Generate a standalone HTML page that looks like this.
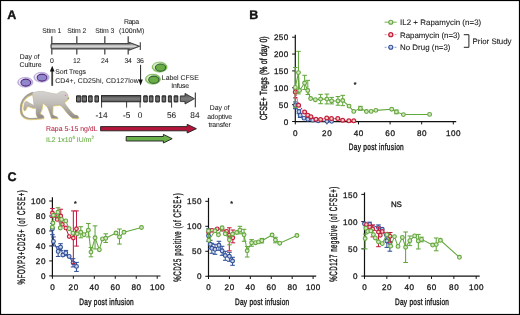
<!DOCTYPE html>
<html><head><meta charset="utf-8"><style>
html,body{margin:0;padding:0;background:#fff;}
svg{display:block;font-family:"Liberation Sans", sans-serif;will-change:transform;text-rendering:geometricPrecision;}
</style></head><body>
<svg width="520" height="315" viewBox="0 0 520 315" font-family='"Liberation Sans", sans-serif'>
<rect x="0" y="0" width="520" height="315" fill="#fff"/>
<text x="7.3" y="19.2" font-size="12.5" text-anchor="start" fill="#111" stroke="#111" stroke-width="0.35" font-weight="bold" >A</text>
<defs><linearGradient id="barg" gradientUnits="userSpaceOnUse" x1="0" y1="43.4" x2="0" y2="49.1"><stop offset="0" stop-color="#6e6e6e"/><stop offset="0.3" stop-color="#b4b4b4"/><stop offset="0.5" stop-color="#dedede"/><stop offset="0.7" stop-color="#b4b4b4"/><stop offset="1" stop-color="#707070"/></linearGradient><linearGradient id="bar2" x1="0" y1="0" x2="0" y2="1"><stop offset="0" stop-color="#4a4a4a"/><stop offset="0.5" stop-color="#7c7c7c"/><stop offset="1" stop-color="#585858"/></linearGradient><linearGradient id="mk" x1="0" y1="0" x2="0" y2="1"><stop offset="0" stop-color="#c9c7c4"/><stop offset="1" stop-color="#9d9a96"/></linearGradient></defs>
<line x1="51.8" y1="36.2" x2="51.8" y2="54.5" stroke="#4a4a4a" stroke-width="1.3"/>
<line x1="76.8" y1="36.2" x2="76.8" y2="54.5" stroke="#4a4a4a" stroke-width="1.3"/>
<line x1="104.8" y1="36.2" x2="104.8" y2="54.5" stroke="#4a4a4a" stroke-width="1.3"/>
<line x1="128.2" y1="36.2" x2="128.2" y2="54.5" stroke="#4a4a4a" stroke-width="1.3"/>
<path d="M52.2 43.6 H129 V42.3 L139.3 46.2 L129 50.2 V48.9 H52.2 Q51 48.9 51 46.25 Q51 43.6 52.2 43.6 Z" fill="url(#barg)" stroke="#474747" stroke-width="1.2"/>
<line x1="140.3" y1="42.3" x2="140.3" y2="50" stroke="#3e3e3e" stroke-width="1.1"/>
<text x="51.8" y="33.2" font-size="6.9" text-anchor="middle" fill="#222" stroke="#222" stroke-width="0.05" font-weight="normal" textLength="19.2" lengthAdjust="spacing" >Stim 1</text>
<text x="76.8" y="33.2" font-size="6.9" text-anchor="middle" fill="#222" stroke="#222" stroke-width="0.05" font-weight="normal" textLength="19.2" lengthAdjust="spacing" >Stim 2</text>
<text x="104.8" y="33.2" font-size="6.9" text-anchor="middle" fill="#222" stroke="#222" stroke-width="0.05" font-weight="normal" textLength="19.2" lengthAdjust="spacing" >Stim 3</text>
<text x="131.5" y="24.4" font-size="6.9" text-anchor="middle" fill="#222" stroke="#222" stroke-width="0.05" font-weight="normal" textLength="15" lengthAdjust="spacing" >Rapa</text>
<text x="131.6" y="33.4" font-size="6.9" text-anchor="middle" fill="#222" stroke="#222" stroke-width="0.05" font-weight="normal" textLength="25.4" lengthAdjust="spacing" >(100nM)</text>
<text x="51.8" y="63.2" font-size="6.9" text-anchor="middle" fill="#222" stroke="#222" stroke-width="0.05" font-weight="normal" textLength="3.7" lengthAdjust="spacing" >0</text>
<text x="76.8" y="63.2" font-size="6.9" text-anchor="middle" fill="#222" stroke="#222" stroke-width="0.05" font-weight="normal" textLength="7.4" lengthAdjust="spacing" >12</text>
<text x="104.8" y="63.2" font-size="6.9" text-anchor="middle" fill="#222" stroke="#222" stroke-width="0.05" font-weight="normal" textLength="7.4" lengthAdjust="spacing" >24</text>
<text x="128.2" y="63.2" font-size="6.9" text-anchor="middle" fill="#222" stroke="#222" stroke-width="0.05" font-weight="normal" textLength="7.4" lengthAdjust="spacing" >34</text>
<text x="140.2" y="63.2" font-size="6.9" text-anchor="middle" fill="#222" stroke="#222" stroke-width="0.05" font-weight="normal" textLength="7.4" lengthAdjust="spacing" >36</text>
<text x="29.6" y="58.9" font-size="6.9" text-anchor="middle" fill="#222" stroke="#222" stroke-width="0.05" font-weight="normal" textLength="19.5" lengthAdjust="spacing" >Day of</text>
<text x="30.6" y="66.8" font-size="6.9" text-anchor="middle" fill="#222" stroke="#222" stroke-width="0.05" font-weight="normal" textLength="22" lengthAdjust="spacing" >Culture</text>
<line x1="52.2" y1="70" x2="52.2" y2="85.8" stroke="#454545" stroke-width="1.8"/>
<path d="M52.2 65.8 L54.5 71.5 L49.9 71.5 Z" fill="#111"/>
<text x="55.2" y="74.2" font-size="6.9" text-anchor="start" fill="#222" stroke="#222" stroke-width="0.05" font-weight="normal" textLength="30.8" lengthAdjust="spacing" >Sort Tregs</text>
<text x="55.2" y="82.6" font-size="6.9" text-anchor="start" fill="#222" stroke="#222" stroke-width="0.05" font-weight="normal" textLength="83.6" lengthAdjust="spacing" >CD4+, CD25hi, CD127low</text>
<line x1="140.6" y1="64.8" x2="140.6" y2="81" stroke="#222" stroke-width="1"/>
<path d="M140.6 85.6 L138.4 79.6 L142.8 79.6 Z" fill="#111"/>
<ellipse cx="25.3" cy="82.3" rx="7.7" ry="5" fill="#bdb2e0" stroke="#a597d4" stroke-width="0.5"/>
<ellipse cx="25.0" cy="82.1" rx="6.3" ry="4.1" fill="#efeaf8"/>
<ellipse cx="25.8" cy="82.6" rx="4.9" ry="3.5" fill="#9088cc" stroke="#54267a" stroke-width="1.05"/>
<ellipse cx="41.5" cy="77.3" rx="7.7" ry="5" fill="#bdb2e0" stroke="#a597d4" stroke-width="0.5"/>
<ellipse cx="41.2" cy="77.1" rx="6.3" ry="4.1" fill="#efeaf8"/>
<ellipse cx="42.0" cy="77.6" rx="4.9" ry="3.5" fill="#9088cc" stroke="#54267a" stroke-width="1.05"/>
<ellipse cx="159.6" cy="67.1" rx="7.6" ry="5.1" fill="#7fbd58" stroke="#6fb048" stroke-width="0.5"/>
<ellipse cx="159.2" cy="66.8" rx="6.2" ry="4.2" fill="#d9ecc9"/>
<ellipse cx="160.5" cy="67.6" rx="5.1" ry="3.6" fill="#69ad44" stroke="#2f5f35" stroke-width="1.05"/>
<ellipse cx="152.9" cy="79.2" rx="7.6" ry="5.1" fill="#7fbd58" stroke="#6fb048" stroke-width="0.5"/>
<ellipse cx="152.5" cy="78.9" rx="6.2" ry="4.2" fill="#d9ecc9"/>
<ellipse cx="153.8" cy="79.7" rx="5.1" ry="3.6" fill="#69ad44" stroke="#2f5f35" stroke-width="1.05"/>
<text x="180.3" y="79.6" font-size="6.9" text-anchor="middle" fill="#222" stroke="#222" stroke-width="0.05" font-weight="normal" textLength="36.9" lengthAdjust="spacing" >Label CFSE</text>
<text x="180.2" y="87.8" font-size="6.9" text-anchor="middle" fill="#222" stroke="#222" stroke-width="0.05" font-weight="normal" textLength="17.7" lengthAdjust="spacing" >Infuse</text>
<rect x="76.5" y="95.8" width="4.300000000000009" height="6.2" rx="0.2" fill="url(#bar2)" stroke="#1a1a1a" stroke-width="0.9"/>
<rect x="82.2" y="95.8" width="4.300000000000009" height="6.2" rx="0.2" fill="url(#bar2)" stroke="#1a1a1a" stroke-width="0.9"/>
<rect x="88.60000000000001" y="95.8" width="3.5999999999999917" height="6.2" rx="0.2" fill="url(#bar2)" stroke="#1a1a1a" stroke-width="0.9"/>
<rect x="94.9" y="95.8" width="3.600000000000006" height="6.2" rx="0.2" fill="url(#bar2)" stroke="#1a1a1a" stroke-width="0.9"/>
<rect x="143.70000000000002" y="95.8" width="3.5999999999999774" height="6.2" rx="0.2" fill="url(#bar2)" stroke="#1a1a1a" stroke-width="0.9"/>
<rect x="149.4" y="95.8" width="3.600000000000006" height="6.2" rx="0.2" fill="url(#bar2)" stroke="#1a1a1a" stroke-width="0.9"/>
<rect x="155.70000000000002" y="95.8" width="3.7" height="6.2" rx="0.2" fill="url(#bar2)" stroke="#1a1a1a" stroke-width="0.9"/>
<rect x="162.1" y="95.8" width="3.600000000000006" height="6.2" rx="0.2" fill="url(#bar2)" stroke="#1a1a1a" stroke-width="0.9"/>
<rect x="168.4" y="95.8" width="3.0000000000000115" height="6.2" rx="0.2" fill="url(#bar2)" stroke="#1a1a1a" stroke-width="0.9"/>
<rect x="174.1" y="95.8" width="3.7" height="6.2" rx="0.2" fill="url(#bar2)" stroke="#1a1a1a" stroke-width="0.9"/>
<rect x="101.5" y="95.6" width="39.2" height="6.2" fill="url(#bar2)" stroke="#1a1a1a" stroke-width="0.9"/>
<path d="M180.3 95.9 H185 V93.4 L194.4 98.7 L185 104 V101.6 H180.3 Z" fill="url(#bar2)" stroke="#222" stroke-width="0.8"/>
<line x1="195.3" y1="92.5" x2="195.3" y2="107.3" stroke="#222" stroke-width="1"/>
<line x1="101.6" y1="101.8" x2="101.6" y2="107.6" stroke="#222" stroke-width="0.9"/>
<line x1="126.6" y1="101.8" x2="126.6" y2="107.6" stroke="#222" stroke-width="0.9"/>
<line x1="140.1" y1="101.8" x2="140.1" y2="107.6" stroke="#222" stroke-width="0.9"/>
<line x1="171.6" y1="101.8" x2="171.6" y2="107.6" stroke="#222" stroke-width="0.9"/>
<text x="101.6" y="118.2" font-size="8.3" text-anchor="middle" fill="#222" stroke="#222" stroke-width="0.05" font-weight="normal" >-14</text>
<text x="126.6" y="118.2" font-size="8.3" text-anchor="middle" fill="#222" stroke="#222" stroke-width="0.05" font-weight="normal" >-5</text>
<text x="140.1" y="118.2" font-size="8.3" text-anchor="middle" fill="#222" stroke="#222" stroke-width="0.05" font-weight="normal" >0</text>
<text x="171.6" y="118.2" font-size="8.3" text-anchor="middle" fill="#222" stroke="#222" stroke-width="0.05" font-weight="normal" >56</text>
<text x="194.9" y="118.2" font-size="8.3" text-anchor="middle" fill="#222" stroke="#222" stroke-width="0.05" font-weight="normal" >84</text>
<text x="219.6" y="110.2" font-size="6.9" text-anchor="middle" fill="#222" stroke="#222" stroke-width="0.05" font-weight="normal" textLength="19.7" lengthAdjust="spacing" >Day of</text>
<text x="219.6" y="119.1" font-size="6.9" text-anchor="middle" fill="#222" stroke="#222" stroke-width="0.05" font-weight="normal" textLength="24.8" lengthAdjust="spacing" >adoptive</text>
<text x="219.6" y="126.8" font-size="6.9" text-anchor="middle" fill="#222" stroke="#222" stroke-width="0.05" font-weight="normal" textLength="22.3" lengthAdjust="spacing" >transfer</text>
<path d="M33.2 91.8 C29.5 92.6 25.2 95 22.3 99.6 C19.8 103.6 19.3 109.2 20.6 113.6 C22 117.4 25.5 119.2 29.5 119.3 C33.5 119.3 37.5 118.9 41.8 118.4 L41.8 117.5 C37.5 117.8 33.5 118 29.6 117.9 C26.4 117.7 23.7 116.3 22.4 113 C21.2 109.6 21.6 104.8 23.4 101.3 C25.5 97.5 29 95.2 32.8 94.4 Z" fill="#e8cf72" stroke="#e8cf72" stroke-width="0.7" transform="translate(0.3,0.5)"/>
<path d="M32.3 93 C36 91.4 40 90.9 44 91.6 C48 92.4 52 93.5 56.4 93.9 C57.8 93.5 58.6 92.5 59.8 91.9 C61 91.1 63.5 90.8 65.2 91.7 C66.8 92.5 67.6 94.3 67.8 95.9 C68.2 96.9 68.8 97.7 68.5 98.5 C68 99.3 67.2 99.5 66.6 100.3 C66 101.2 64.8 101.7 64 101.9 C64.6 103 65.6 104.6 67 106.4 C69 109 71 111.6 73 113.4 C74 114.4 75 114.9 76.2 115.1 C77.5 115.4 78.4 116.3 78.6 117.3 C78.4 118.1 77.4 118.3 76.5 118.3 L72.6 118 C70.8 116.8 68.6 114.6 66.8 112.4 C65 110.3 63.4 108 62 106.4 C61.2 105.6 60.2 105 59.3 104.9 C57 105 54.8 105.3 52.8 105.6 C52.8 108.5 52.4 111.6 52.5 114.1 C53.3 115.5 54.8 116.1 56.2 116.5 C57.3 116.9 57.9 117.6 57.8 118.3 L51.5 118.2 C50.7 115.7 49.6 112.3 48.6 109.7 L47 106.3 C45.5 105.1 44 103.7 42.6 102.7 C42.4 104.9 42.2 107.5 41.6 109.5 C41 111.3 40.2 112.7 39.8 113.9 C41.2 114.2 42.6 114.7 43.4 115.7 C43.9 116.5 43.9 117.5 43.6 118.2 L38.2 118.1 C37.2 116.9 36.3 115.5 36.1 114.1 L36 107.6 C35 107.9 34 108.1 33 107.9 C31.8 107.4 30.2 106.8 28.6 106.3 C27.6 106 27 106.2 26.6 107.2 C26.2 108.4 25.8 109.6 25 110.3 C24.4 110.6 23.8 110.2 23.7 109.4 C23.6 108 23.8 106 24.2 104.2 C24.5 102.8 25 101.6 26 101.2 C27.4 101.4 29 102.6 30.6 103.6 C31.8 104.4 33 105 34 105.4 C33.8 101.5 33.2 97.5 32.3 93 Z" fill="#e8cf72" stroke="#e8cf72" stroke-width="0.8" transform="translate(0.3,0.6)"/>
<defs><linearGradient id="mkb" x1="0" y1="0" x2="0" y2="1"><stop offset="0" stop-color="#d6d4d1"/><stop offset="0.45" stop-color="#c0bdb9"/><stop offset="1" stop-color="#8e8b87"/></linearGradient></defs>
<path d="M33.2 91.8 C29.5 92.6 25.2 95 22.3 99.6 C19.8 103.6 19.3 109.2 20.6 113.6 C22 117.4 25.5 119.2 29.5 119.3 C33.5 119.3 37.5 118.9 41.8 118.4 L41.8 117.5 C37.5 117.8 33.5 118 29.6 117.9 C26.4 117.7 23.7 116.3 22.4 113 C21.2 109.6 21.6 104.8 23.4 101.3 C25.5 97.5 29 95.2 32.8 94.4 Z" fill="#a3a09c"/>
<path d="M32.3 93 C36 91.4 40 90.9 44 91.6 C48 92.4 52 93.5 56.4 93.9 C57.8 93.5 58.6 92.5 59.8 91.9 C61 91.1 63.5 90.8 65.2 91.7 C66.8 92.5 67.6 94.3 67.8 95.9 C68.2 96.9 68.8 97.7 68.5 98.5 C68 99.3 67.2 99.5 66.6 100.3 C66 101.2 64.8 101.7 64 101.9 C64.6 103 65.6 104.6 67 106.4 C69 109 71 111.6 73 113.4 C74 114.4 75 114.9 76.2 115.1 C77.5 115.4 78.4 116.3 78.6 117.3 C78.4 118.1 77.4 118.3 76.5 118.3 L72.6 118 C70.8 116.8 68.6 114.6 66.8 112.4 C65 110.3 63.4 108 62 106.4 C61.2 105.6 60.2 105 59.3 104.9 C57 105 54.8 105.3 52.8 105.6 C52.8 108.5 52.4 111.6 52.5 114.1 C53.3 115.5 54.8 116.1 56.2 116.5 C57.3 116.9 57.9 117.6 57.8 118.3 L51.5 118.2 C50.7 115.7 49.6 112.3 48.6 109.7 L47 106.3 C45.5 105.1 44 103.7 42.6 102.7 C42.4 104.9 42.2 107.5 41.6 109.5 C41 111.3 40.2 112.7 39.8 113.9 C41.2 114.2 42.6 114.7 43.4 115.7 C43.9 116.5 43.9 117.5 43.6 118.2 L38.2 118.1 C37.2 116.9 36.3 115.5 36.1 114.1 L36 107.6 C35 107.9 34 108.1 33 107.9 C31.8 107.4 30.2 106.8 28.6 106.3 C27.6 106 27 106.2 26.6 107.2 C26.2 108.4 25.8 109.6 25 110.3 C24.4 110.6 23.8 110.2 23.7 109.4 C23.6 108 23.8 106 24.2 104.2 C24.5 102.8 25 101.6 26 101.2 C27.4 101.4 29 102.6 30.6 103.6 C31.8 104.4 33 105 34 105.4 C33.8 101.5 33.2 97.5 32.3 93 Z" fill="url(#mkb)" stroke="#aaa7a3" stroke-width="0.3"/>
<circle cx="65.3" cy="95.3" r="1.05" fill="#e9b2d6"/><circle cx="65.4" cy="95.3" r="0.45" fill="#7a5a70"/><circle cx="68.2" cy="98.3" r="0.55" fill="#6e6b68"/>
<text x="46" y="131.2" font-size="6.9" text-anchor="start" fill="#b51d3c" stroke="#b51d3c" stroke-width="0.05" font-weight="normal" textLength="51.5" lengthAdjust="spacing" >Rapa 5-15 ng/dL</text>
<text x="46" y="142" font-size="6.9" text-anchor="start" fill="#5fa83a" stroke="#5fa83a" stroke-width="0.05" font-weight="normal" >IL2 1x10<tspan font-size="4.5" dy="-2.6">6</tspan><tspan dy="2.6"> IU/m</tspan><tspan font-size="4.5" dy="-2.6">2</tspan></text>
<path d="M100.6 126.6 H187.2 V124.3 L196.4 128.7 L187.2 133 V130.8 H100.6 Z" fill="#b3163a" stroke="#1e1e1e" stroke-width="0.9"/>
<path d="M126.2 136.5 H163.4 V134.4 L172.2 138.7 L163.4 143 V141 H126.2 Z" fill="#6ab04a" stroke="#1e1e1e" stroke-width="0.9"/>
<text x="249.3" y="18.8" font-size="12.5" text-anchor="start" fill="#111" stroke="#111" stroke-width="0.35" font-weight="bold" >B</text>
<line x1="295.3" y1="34.8" x2="295.3" y2="122.19999999999999" stroke="#111" stroke-width="1.2"/>
<line x1="294.7" y1="121.6" x2="456.2" y2="121.6" stroke="#111" stroke-width="1.2"/>
<line x1="292.1" y1="121.50" x2="295.3" y2="121.50" stroke="#111" stroke-width="1"/>
<text x="288.3" y="124.6" font-size="8.1" text-anchor="end" fill="#1a1a1a" stroke="#1a1a1a" stroke-width="0.3" font-weight="normal" textLength="4.8" lengthAdjust="spacing" >0</text>
<line x1="292.1" y1="104.64" x2="295.3" y2="104.64" stroke="#111" stroke-width="1"/>
<text x="288.3" y="107.74" font-size="8.1" text-anchor="end" fill="#1a1a1a" stroke="#1a1a1a" stroke-width="0.3" font-weight="normal" textLength="9.6" lengthAdjust="spacing" >50</text>
<line x1="292.1" y1="87.78" x2="295.3" y2="87.78" stroke="#111" stroke-width="1"/>
<text x="288.3" y="90.88" font-size="8.1" text-anchor="end" fill="#1a1a1a" stroke="#1a1a1a" stroke-width="0.3" font-weight="normal" textLength="14.4" lengthAdjust="spacing" >100</text>
<line x1="292.1" y1="70.92" x2="295.3" y2="70.92" stroke="#111" stroke-width="1"/>
<text x="288.3" y="74.02" font-size="8.1" text-anchor="end" fill="#1a1a1a" stroke="#1a1a1a" stroke-width="0.3" font-weight="normal" textLength="14.4" lengthAdjust="spacing" >150</text>
<line x1="292.1" y1="54.06" x2="295.3" y2="54.06" stroke="#111" stroke-width="1"/>
<text x="288.3" y="57.16" font-size="8.1" text-anchor="end" fill="#1a1a1a" stroke="#1a1a1a" stroke-width="0.3" font-weight="normal" textLength="14.4" lengthAdjust="spacing" >200</text>
<line x1="292.1" y1="37.20" x2="295.3" y2="37.20" stroke="#111" stroke-width="1"/>
<text x="288.3" y="40.3" font-size="8.1" text-anchor="end" fill="#1a1a1a" stroke="#1a1a1a" stroke-width="0.3" font-weight="normal" textLength="14.4" lengthAdjust="spacing" >250</text>
<line x1="295.30" y1="121.6" x2="295.30" y2="124.39999999999999" stroke="#111" stroke-width="1"/>
<text x="295.3" y="135.8" font-size="8.1" text-anchor="middle" fill="#1a1a1a" stroke="#1a1a1a" stroke-width="0.3" font-weight="normal" textLength="4.8" lengthAdjust="spacing" >0</text>
<line x1="326.90" y1="121.6" x2="326.90" y2="124.39999999999999" stroke="#111" stroke-width="1"/>
<text x="326.9" y="135.8" font-size="8.1" text-anchor="middle" fill="#1a1a1a" stroke="#1a1a1a" stroke-width="0.3" font-weight="normal" textLength="9.6" lengthAdjust="spacing" >20</text>
<line x1="358.50" y1="121.6" x2="358.50" y2="124.39999999999999" stroke="#111" stroke-width="1"/>
<text x="358.5" y="135.8" font-size="8.1" text-anchor="middle" fill="#1a1a1a" stroke="#1a1a1a" stroke-width="0.3" font-weight="normal" textLength="9.6" lengthAdjust="spacing" >40</text>
<line x1="390.10" y1="121.6" x2="390.10" y2="124.39999999999999" stroke="#111" stroke-width="1"/>
<text x="390.1" y="135.8" font-size="8.1" text-anchor="middle" fill="#1a1a1a" stroke="#1a1a1a" stroke-width="0.3" font-weight="normal" textLength="9.6" lengthAdjust="spacing" >60</text>
<line x1="421.70" y1="121.6" x2="421.70" y2="124.39999999999999" stroke="#111" stroke-width="1"/>
<text x="421.7" y="135.8" font-size="8.1" text-anchor="middle" fill="#1a1a1a" stroke="#1a1a1a" stroke-width="0.3" font-weight="normal" textLength="9.6" lengthAdjust="spacing" >80</text>
<line x1="453.30" y1="121.6" x2="453.30" y2="124.39999999999999" stroke="#111" stroke-width="1"/>
<text x="453.3" y="135.8" font-size="8.1" text-anchor="middle" fill="#1a1a1a" stroke="#1a1a1a" stroke-width="0.3" font-weight="normal" textLength="14.4" lengthAdjust="spacing" >100</text>
<text transform="translate(376.2,149.8) scale(0.7,1)" x="0" y="0" font-size="9.3" text-anchor="middle" fill="#1a1a1a" stroke="#1a1a1a" stroke-width="0.4" textLength="78.57" lengthAdjust="spacing">Day post infusion</text>
<text transform="translate(266.7,78.3) rotate(-90) scale(0.68,1)" x="0" y="0" font-size="10.3" text-anchor="middle" fill="#1a1a1a" stroke="#1a1a1a" stroke-width="0.4" textLength="123.53" lengthAdjust="spacing">CFSE+ Tregs (% of day 0)</text>
<line x1="295.30" y1="108.69" x2="295.30" y2="101.94" stroke="#30509a" stroke-width="1.05"/>
<line x1="293.00" y1="108.69" x2="297.60" y2="108.69" stroke="#30509a" stroke-width="1.05"/>
<line x1="293.00" y1="101.94" x2="297.60" y2="101.94" stroke="#30509a" stroke-width="1.05"/>
<line x1="298.93" y1="113.74" x2="298.93" y2="109.70" stroke="#30509a" stroke-width="1.05"/>
<line x1="296.63" y1="113.74" x2="301.23" y2="113.74" stroke="#30509a" stroke-width="1.05"/>
<line x1="296.63" y1="109.70" x2="301.23" y2="109.70" stroke="#30509a" stroke-width="1.05"/>
<line x1="300.20" y1="117.45" x2="300.20" y2="113.41" stroke="#30509a" stroke-width="1.05"/>
<line x1="297.90" y1="117.45" x2="302.50" y2="117.45" stroke="#30509a" stroke-width="1.05"/>
<line x1="297.90" y1="113.41" x2="302.50" y2="113.41" stroke="#30509a" stroke-width="1.05"/>
<polyline points="295.30,105.31 298.93,111.72 300.20,115.43 303.99,118.13 307.78,119.31 312.68,120.15 318.21,120.83 326.90,121.33 331.64,121.33" fill="none" stroke="#30509a" stroke-width="1.05" stroke-dasharray="1.5,1"/>
<circle cx="295.30" cy="105.31" r="1.9" fill="#c9d1e6" stroke="#30509a" stroke-width="1.1"/>
<circle cx="298.93" cy="111.72" r="1.9" fill="#c9d1e6" stroke="#30509a" stroke-width="1.1"/>
<circle cx="300.20" cy="115.43" r="1.9" fill="#c9d1e6" stroke="#30509a" stroke-width="1.1"/>
<circle cx="303.99" cy="118.13" r="1.9" fill="#c9d1e6" stroke="#30509a" stroke-width="1.1"/>
<circle cx="307.78" cy="119.31" r="1.9" fill="#c9d1e6" stroke="#30509a" stroke-width="1.1"/>
<circle cx="312.68" cy="120.15" r="1.9" fill="#c9d1e6" stroke="#30509a" stroke-width="1.1"/>
<circle cx="318.21" cy="120.83" r="1.9" fill="#c9d1e6" stroke="#30509a" stroke-width="1.1"/>
<circle cx="326.90" cy="121.33" r="1.9" fill="#c9d1e6" stroke="#30509a" stroke-width="1.1"/>
<circle cx="331.64" cy="121.33" r="1.9" fill="#c9d1e6" stroke="#30509a" stroke-width="1.1"/>
<line x1="295.30" y1="97.90" x2="295.30" y2="89.13" stroke="#c51c3f" stroke-width="1.05"/>
<line x1="293.00" y1="97.90" x2="297.60" y2="97.90" stroke="#c51c3f" stroke-width="1.05"/>
<line x1="293.00" y1="89.13" x2="297.60" y2="89.13" stroke="#c51c3f" stroke-width="1.05"/>
<polyline points="295.30,92.00 298.62,105.31 304.62,112.06 307.78,115.19 310.94,116.78 316.00,119.31 320.58,119.48 326.74,117.99 331.48,118.60 337.80,118.60 342.70,120.18 348.86,120.83 353.76,120.83" fill="none" stroke="#c51c3f" stroke-width="1.05" stroke-dasharray="1.5,1"/>
<circle cx="295.30" cy="92.00" r="1.9" fill="#efd3bf" stroke="#c51c3f" stroke-width="1.2"/>
<circle cx="298.62" cy="105.31" r="1.9" fill="#efd3bf" stroke="#c51c3f" stroke-width="1.2"/>
<circle cx="304.62" cy="112.06" r="1.9" fill="#efd3bf" stroke="#c51c3f" stroke-width="1.2"/>
<circle cx="307.78" cy="115.19" r="1.9" fill="#efd3bf" stroke="#c51c3f" stroke-width="1.2"/>
<circle cx="310.94" cy="116.78" r="1.9" fill="#efd3bf" stroke="#c51c3f" stroke-width="1.2"/>
<circle cx="316.00" cy="119.31" r="1.9" fill="#efd3bf" stroke="#c51c3f" stroke-width="1.2"/>
<circle cx="320.58" cy="119.48" r="1.9" fill="#efd3bf" stroke="#c51c3f" stroke-width="1.2"/>
<circle cx="326.74" cy="117.99" r="1.9" fill="#efd3bf" stroke="#c51c3f" stroke-width="1.2"/>
<circle cx="331.48" cy="118.60" r="1.9" fill="#efd3bf" stroke="#c51c3f" stroke-width="1.2"/>
<circle cx="337.80" cy="118.60" r="1.9" fill="#efd3bf" stroke="#c51c3f" stroke-width="1.2"/>
<circle cx="342.70" cy="120.18" r="1.9" fill="#efd3bf" stroke="#c51c3f" stroke-width="1.2"/>
<circle cx="348.86" cy="120.83" r="1.9" fill="#efd3bf" stroke="#c51c3f" stroke-width="1.2"/>
<circle cx="353.76" cy="120.83" r="1.9" fill="#efd3bf" stroke="#c51c3f" stroke-width="1.2"/>
<line x1="295.30" y1="107.34" x2="295.30" y2="67.55" stroke="#62a83c" stroke-width="1.05"/>
<line x1="293.00" y1="107.34" x2="297.60" y2="107.34" stroke="#62a83c" stroke-width="1.05"/>
<line x1="293.00" y1="67.55" x2="297.60" y2="67.55" stroke="#62a83c" stroke-width="1.05"/>
<line x1="298.46" y1="93.85" x2="298.46" y2="51.36" stroke="#62a83c" stroke-width="1.05"/>
<line x1="296.16" y1="93.85" x2="300.76" y2="93.85" stroke="#62a83c" stroke-width="1.05"/>
<line x1="296.16" y1="51.36" x2="300.76" y2="51.36" stroke="#62a83c" stroke-width="1.05"/>
<line x1="304.62" y1="89.47" x2="304.62" y2="75.30" stroke="#62a83c" stroke-width="1.05"/>
<line x1="302.32" y1="89.47" x2="306.92" y2="89.47" stroke="#62a83c" stroke-width="1.05"/>
<line x1="302.32" y1="75.30" x2="306.92" y2="75.30" stroke="#62a83c" stroke-width="1.05"/>
<line x1="307.78" y1="94.52" x2="307.78" y2="80.36" stroke="#62a83c" stroke-width="1.05"/>
<line x1="305.48" y1="94.52" x2="310.08" y2="94.52" stroke="#62a83c" stroke-width="1.05"/>
<line x1="305.48" y1="80.36" x2="310.08" y2="80.36" stroke="#62a83c" stroke-width="1.05"/>
<line x1="320.58" y1="103.70" x2="320.58" y2="94.39" stroke="#62a83c" stroke-width="1.05"/>
<line x1="318.28" y1="103.70" x2="322.88" y2="103.70" stroke="#62a83c" stroke-width="1.05"/>
<line x1="318.28" y1="94.39" x2="322.88" y2="94.39" stroke="#62a83c" stroke-width="1.05"/>
<line x1="326.90" y1="103.90" x2="326.90" y2="94.09" stroke="#62a83c" stroke-width="1.05"/>
<line x1="324.60" y1="103.90" x2="329.20" y2="103.90" stroke="#62a83c" stroke-width="1.05"/>
<line x1="324.60" y1="94.09" x2="329.20" y2="94.09" stroke="#62a83c" stroke-width="1.05"/>
<line x1="331.64" y1="103.90" x2="331.64" y2="97.39" stroke="#62a83c" stroke-width="1.05"/>
<line x1="329.34" y1="103.90" x2="333.94" y2="103.90" stroke="#62a83c" stroke-width="1.05"/>
<line x1="329.34" y1="97.39" x2="333.94" y2="97.39" stroke="#62a83c" stroke-width="1.05"/>
<line x1="337.96" y1="105.21" x2="337.96" y2="96.55" stroke="#62a83c" stroke-width="1.05"/>
<line x1="335.66" y1="105.21" x2="340.26" y2="105.21" stroke="#62a83c" stroke-width="1.05"/>
<line x1="335.66" y1="96.55" x2="340.26" y2="96.55" stroke="#62a83c" stroke-width="1.05"/>
<line x1="342.70" y1="105.62" x2="342.70" y2="95.37" stroke="#62a83c" stroke-width="1.05"/>
<line x1="340.40" y1="105.62" x2="345.00" y2="105.62" stroke="#62a83c" stroke-width="1.05"/>
<line x1="340.40" y1="95.37" x2="345.00" y2="95.37" stroke="#62a83c" stroke-width="1.05"/>
<line x1="360.40" y1="110.37" x2="360.40" y2="106.33" stroke="#62a83c" stroke-width="1.05"/>
<line x1="358.10" y1="110.37" x2="362.70" y2="110.37" stroke="#62a83c" stroke-width="1.05"/>
<line x1="358.10" y1="106.33" x2="362.70" y2="106.33" stroke="#62a83c" stroke-width="1.05"/>
<line x1="396.42" y1="113.74" x2="396.42" y2="110.04" stroke="#62a83c" stroke-width="1.05"/>
<line x1="394.12" y1="113.74" x2="398.72" y2="113.74" stroke="#62a83c" stroke-width="1.05"/>
<line x1="394.12" y1="110.04" x2="398.72" y2="110.04" stroke="#62a83c" stroke-width="1.05"/>
<polyline points="295.30,87.44 298.46,72.61 299.57,90.48 304.62,83.06 307.78,90.48 310.63,98.57 315.37,99.72 320.58,99.11 326.90,99.11 331.64,100.93 337.96,100.93 342.70,100.49 349.02,106.09 353.76,111.38 360.40,108.35 366.40,111.55 371.14,111.38 375.88,110.37 391.68,109.19 396.42,111.89 403.37,114.59 429.60,114.42" fill="none" stroke="#62a83c" stroke-width="1.05"/>
<circle cx="295.30" cy="87.44" r="1.9" fill="#d9e6c6" stroke="#62a83c" stroke-width="1.1"/>
<circle cx="298.46" cy="72.61" r="1.9" fill="#d9e6c6" stroke="#62a83c" stroke-width="1.1"/>
<circle cx="299.57" cy="90.48" r="1.9" fill="#d9e6c6" stroke="#62a83c" stroke-width="1.1"/>
<circle cx="304.62" cy="83.06" r="1.9" fill="#d9e6c6" stroke="#62a83c" stroke-width="1.1"/>
<circle cx="307.78" cy="90.48" r="1.9" fill="#d9e6c6" stroke="#62a83c" stroke-width="1.1"/>
<circle cx="310.63" cy="98.57" r="1.9" fill="#d9e6c6" stroke="#62a83c" stroke-width="1.1"/>
<circle cx="315.37" cy="99.72" r="1.9" fill="#d9e6c6" stroke="#62a83c" stroke-width="1.1"/>
<circle cx="320.58" cy="99.11" r="1.9" fill="#d9e6c6" stroke="#62a83c" stroke-width="1.1"/>
<circle cx="326.90" cy="99.11" r="1.9" fill="#d9e6c6" stroke="#62a83c" stroke-width="1.1"/>
<circle cx="331.64" cy="100.93" r="1.9" fill="#d9e6c6" stroke="#62a83c" stroke-width="1.1"/>
<circle cx="337.96" cy="100.93" r="1.9" fill="#d9e6c6" stroke="#62a83c" stroke-width="1.1"/>
<circle cx="342.70" cy="100.49" r="1.9" fill="#d9e6c6" stroke="#62a83c" stroke-width="1.1"/>
<circle cx="349.02" cy="106.09" r="1.9" fill="#d9e6c6" stroke="#62a83c" stroke-width="1.1"/>
<circle cx="353.76" cy="111.38" r="1.9" fill="#d9e6c6" stroke="#62a83c" stroke-width="1.1"/>
<circle cx="360.40" cy="108.35" r="1.9" fill="#d9e6c6" stroke="#62a83c" stroke-width="1.1"/>
<circle cx="366.40" cy="111.55" r="1.9" fill="#d9e6c6" stroke="#62a83c" stroke-width="1.1"/>
<circle cx="371.14" cy="111.38" r="1.9" fill="#d9e6c6" stroke="#62a83c" stroke-width="1.1"/>
<circle cx="375.88" cy="110.37" r="1.9" fill="#d9e6c6" stroke="#62a83c" stroke-width="1.1"/>
<circle cx="391.68" cy="109.19" r="1.9" fill="#d9e6c6" stroke="#62a83c" stroke-width="1.1"/>
<circle cx="396.42" cy="111.89" r="1.9" fill="#d9e6c6" stroke="#62a83c" stroke-width="1.1"/>
<circle cx="403.37" cy="114.59" r="1.9" fill="#d9e6c6" stroke="#62a83c" stroke-width="1.1"/>
<circle cx="429.60" cy="114.42" r="1.9" fill="#d9e6c6" stroke="#62a83c" stroke-width="1.1"/>
<text x="355.2" y="86.5" font-size="7" text-anchor="middle" fill="#222" stroke="#222" stroke-width="0.3" font-weight="normal" >*</text>
<line x1="384.6" y1="22.2" x2="396.6" y2="22.2" stroke="#62a83c" stroke-width="0.9"/>
<circle cx="390.80" cy="22.20" r="2" fill="#d9e6c6" stroke="#62a83c" stroke-width="1.1"/>
<line x1="384.6" y1="34.7" x2="396.6" y2="34.7" stroke="#e48aa2" stroke-width="1" stroke-dasharray="2,1.3"/>
<circle cx="390.80" cy="34.70" r="2" fill="#efd3bf" stroke="#c51c3f" stroke-width="1.3"/>
<line x1="384.6" y1="47.3" x2="396.6" y2="47.3" stroke="#8d9fd0" stroke-width="1" stroke-dasharray="2,1.3"/>
<circle cx="390.80" cy="47.30" r="2" fill="#c9d1e6" stroke="#30509a" stroke-width="1.1"/>
<text x="400" y="25.2" font-size="7.9" text-anchor="start" fill="#1a1a1a" stroke="#1a1a1a" stroke-width="0.1" font-weight="normal" textLength="81.2" lengthAdjust="spacing" >IL2 + Rapamycin (n=3)</text>
<text x="400" y="37.8" font-size="7.9" text-anchor="start" fill="#1a1a1a" stroke="#1a1a1a" stroke-width="0.1" font-weight="normal" textLength="60" lengthAdjust="spacing" >Rapamycin (n=3)</text>
<text x="400" y="50.4" font-size="7.9" text-anchor="start" fill="#1a1a1a" stroke="#1a1a1a" stroke-width="0.1" font-weight="normal" textLength="50.5" lengthAdjust="spacing" >No Drug (n=3)</text>
<path d="M463.8 34.7 H468.9 V47.3 H463.8" fill="none" stroke="#222" stroke-width="1"/>
<text x="472.6" y="43.9" font-size="7.9" text-anchor="start" fill="#1a1a1a" stroke="#1a1a1a" stroke-width="0.1" font-weight="normal" textLength="38.9" lengthAdjust="spacing" >Prior Study</text>
<text x="7.5" y="180.6" font-size="12.5" text-anchor="start" fill="#111" stroke="#111" stroke-width="0.35" font-weight="bold" >C</text>
<line x1="52.4" y1="197.3" x2="52.4" y2="276.6" stroke="#111" stroke-width="1.2"/>
<line x1="51.8" y1="276.0" x2="160.5" y2="276.0" stroke="#111" stroke-width="1.2"/>
<line x1="49.199999999999996" y1="275.90" x2="52.4" y2="275.90" stroke="#111" stroke-width="1"/>
<text x="45.4" y="279.0" font-size="8.1" text-anchor="end" fill="#1a1a1a" stroke="#1a1a1a" stroke-width="0.3" font-weight="normal" textLength="4.8" lengthAdjust="spacing" >0</text>
<line x1="49.199999999999996" y1="260.92" x2="52.4" y2="260.92" stroke="#111" stroke-width="1"/>
<text x="45.4" y="264.02" font-size="8.1" text-anchor="end" fill="#1a1a1a" stroke="#1a1a1a" stroke-width="0.3" font-weight="normal" textLength="9.6" lengthAdjust="spacing" >20</text>
<line x1="49.199999999999996" y1="245.94" x2="52.4" y2="245.94" stroke="#111" stroke-width="1"/>
<text x="45.4" y="249.04" font-size="8.1" text-anchor="end" fill="#1a1a1a" stroke="#1a1a1a" stroke-width="0.3" font-weight="normal" textLength="9.6" lengthAdjust="spacing" >40</text>
<line x1="49.199999999999996" y1="230.96" x2="52.4" y2="230.96" stroke="#111" stroke-width="1"/>
<text x="45.4" y="234.06" font-size="8.1" text-anchor="end" fill="#1a1a1a" stroke="#1a1a1a" stroke-width="0.3" font-weight="normal" textLength="9.6" lengthAdjust="spacing" >60</text>
<line x1="49.199999999999996" y1="215.98" x2="52.4" y2="215.98" stroke="#111" stroke-width="1"/>
<text x="45.4" y="219.08" font-size="8.1" text-anchor="end" fill="#1a1a1a" stroke="#1a1a1a" stroke-width="0.3" font-weight="normal" textLength="9.6" lengthAdjust="spacing" >80</text>
<line x1="49.199999999999996" y1="201.00" x2="52.4" y2="201.00" stroke="#111" stroke-width="1"/>
<text x="45.4" y="204.1" font-size="8.1" text-anchor="end" fill="#1a1a1a" stroke="#1a1a1a" stroke-width="0.3" font-weight="normal" textLength="14.4" lengthAdjust="spacing" >100</text>
<line x1="52.40" y1="276.0" x2="52.40" y2="278.8" stroke="#111" stroke-width="1"/>
<text x="52.4" y="290.2" font-size="8.1" text-anchor="middle" fill="#1a1a1a" stroke="#1a1a1a" stroke-width="0.3" font-weight="normal" textLength="4.8" lengthAdjust="spacing" >0</text>
<line x1="73.36" y1="276.0" x2="73.36" y2="278.8" stroke="#111" stroke-width="1"/>
<text x="73.36" y="290.2" font-size="8.1" text-anchor="middle" fill="#1a1a1a" stroke="#1a1a1a" stroke-width="0.3" font-weight="normal" textLength="9.6" lengthAdjust="spacing" >20</text>
<line x1="94.32" y1="276.0" x2="94.32" y2="278.8" stroke="#111" stroke-width="1"/>
<text x="94.32" y="290.2" font-size="8.1" text-anchor="middle" fill="#1a1a1a" stroke="#1a1a1a" stroke-width="0.3" font-weight="normal" textLength="9.6" lengthAdjust="spacing" >40</text>
<line x1="115.28" y1="276.0" x2="115.28" y2="278.8" stroke="#111" stroke-width="1"/>
<text x="115.28" y="290.2" font-size="8.1" text-anchor="middle" fill="#1a1a1a" stroke="#1a1a1a" stroke-width="0.3" font-weight="normal" textLength="9.6" lengthAdjust="spacing" >60</text>
<line x1="136.24" y1="276.0" x2="136.24" y2="278.8" stroke="#111" stroke-width="1"/>
<text x="136.24" y="290.2" font-size="8.1" text-anchor="middle" fill="#1a1a1a" stroke="#1a1a1a" stroke-width="0.3" font-weight="normal" textLength="9.6" lengthAdjust="spacing" >80</text>
<line x1="157.20" y1="276.0" x2="157.20" y2="278.8" stroke="#111" stroke-width="1"/>
<text x="157.2" y="290.2" font-size="8.1" text-anchor="middle" fill="#1a1a1a" stroke="#1a1a1a" stroke-width="0.3" font-weight="normal" textLength="14.4" lengthAdjust="spacing" >100</text>
<text transform="translate(106.5,304.9) scale(0.7,1)" x="0" y="0" font-size="9.3" text-anchor="middle" fill="#1a1a1a" stroke="#1a1a1a" stroke-width="0.4" textLength="77.57" lengthAdjust="spacing">Day post infusion</text>
<text transform="translate(24.5,237.25) rotate(-90) scale(0.56,1)" x="0" y="0" font-size="10.8" text-anchor="middle" fill="#1a1a1a" stroke="#1a1a1a" stroke-width="0.4" textLength="168.39" lengthAdjust="spacing">%FOXP3+CD25+ (of CFSE+)</text>
<line x1="52.40" y1="234.70" x2="52.40" y2="223.47" stroke="#30509a" stroke-width="1.05"/>
<line x1="50.10" y1="234.70" x2="54.70" y2="234.70" stroke="#30509a" stroke-width="1.05"/>
<line x1="50.10" y1="223.47" x2="54.70" y2="223.47" stroke="#30509a" stroke-width="1.05"/>
<line x1="53.45" y1="245.94" x2="53.45" y2="236.95" stroke="#30509a" stroke-width="1.05"/>
<line x1="51.15" y1="245.94" x2="55.75" y2="245.94" stroke="#30509a" stroke-width="1.05"/>
<line x1="51.15" y1="236.95" x2="55.75" y2="236.95" stroke="#30509a" stroke-width="1.05"/>
<line x1="58.16" y1="256.43" x2="58.16" y2="246.69" stroke="#30509a" stroke-width="1.05"/>
<line x1="55.86" y1="256.43" x2="60.46" y2="256.43" stroke="#30509a" stroke-width="1.05"/>
<line x1="55.86" y1="246.69" x2="60.46" y2="246.69" stroke="#30509a" stroke-width="1.05"/>
<line x1="60.57" y1="250.43" x2="60.57" y2="243.69" stroke="#30509a" stroke-width="1.05"/>
<line x1="58.27" y1="250.43" x2="62.87" y2="250.43" stroke="#30509a" stroke-width="1.05"/>
<line x1="58.27" y1="243.69" x2="62.87" y2="243.69" stroke="#30509a" stroke-width="1.05"/>
<line x1="65.81" y1="255.68" x2="65.81" y2="250.43" stroke="#30509a" stroke-width="1.05"/>
<line x1="63.51" y1="255.68" x2="68.11" y2="255.68" stroke="#30509a" stroke-width="1.05"/>
<line x1="63.51" y1="250.43" x2="68.11" y2="250.43" stroke="#30509a" stroke-width="1.05"/>
<line x1="73.05" y1="266.91" x2="73.05" y2="258.67" stroke="#30509a" stroke-width="1.05"/>
<line x1="70.75" y1="266.91" x2="75.35" y2="266.91" stroke="#30509a" stroke-width="1.05"/>
<line x1="70.75" y1="258.67" x2="75.35" y2="258.67" stroke="#30509a" stroke-width="1.05"/>
<line x1="76.50" y1="271.41" x2="76.50" y2="262.42" stroke="#30509a" stroke-width="1.05"/>
<line x1="74.20" y1="271.41" x2="78.80" y2="271.41" stroke="#30509a" stroke-width="1.05"/>
<line x1="74.20" y1="262.42" x2="78.80" y2="262.42" stroke="#30509a" stroke-width="1.05"/>
<polyline points="52.40,228.71 53.45,241.45 58.16,251.41 60.57,247.14 62.88,255.00 65.81,252.91 69.17,256.43 73.05,262.87 76.50,266.39" fill="none" stroke="#30509a" stroke-width="1.05"/>
<circle cx="52.40" cy="228.71" r="1.9" fill="#c9d1e6" stroke="#30509a" stroke-width="1.1"/>
<circle cx="53.45" cy="241.45" r="1.9" fill="#c9d1e6" stroke="#30509a" stroke-width="1.1"/>
<circle cx="58.16" cy="251.41" r="1.9" fill="#c9d1e6" stroke="#30509a" stroke-width="1.1"/>
<circle cx="60.57" cy="247.14" r="1.9" fill="#c9d1e6" stroke="#30509a" stroke-width="1.1"/>
<circle cx="62.88" cy="255.00" r="1.9" fill="#c9d1e6" stroke="#30509a" stroke-width="1.1"/>
<circle cx="65.81" cy="252.91" r="1.9" fill="#c9d1e6" stroke="#30509a" stroke-width="1.1"/>
<circle cx="69.17" cy="256.43" r="1.9" fill="#c9d1e6" stroke="#30509a" stroke-width="1.1"/>
<circle cx="73.05" cy="262.87" r="1.9" fill="#c9d1e6" stroke="#30509a" stroke-width="1.1"/>
<circle cx="76.50" cy="266.39" r="1.9" fill="#c9d1e6" stroke="#30509a" stroke-width="1.1"/>
<line x1="52.40" y1="217.48" x2="52.40" y2="208.49" stroke="#c51c3f" stroke-width="1.05"/>
<line x1="50.10" y1="217.48" x2="54.70" y2="217.48" stroke="#c51c3f" stroke-width="1.05"/>
<line x1="50.10" y1="208.49" x2="54.70" y2="208.49" stroke="#c51c3f" stroke-width="1.05"/>
<line x1="60.78" y1="221.97" x2="60.78" y2="209.24" stroke="#c51c3f" stroke-width="1.05"/>
<line x1="58.48" y1="221.97" x2="63.08" y2="221.97" stroke="#c51c3f" stroke-width="1.05"/>
<line x1="58.48" y1="209.24" x2="63.08" y2="209.24" stroke="#c51c3f" stroke-width="1.05"/>
<line x1="73.36" y1="263.62" x2="73.36" y2="210.89" stroke="#c51c3f" stroke-width="1.05"/>
<line x1="71.06" y1="263.62" x2="75.66" y2="263.62" stroke="#c51c3f" stroke-width="1.05"/>
<line x1="71.06" y1="210.89" x2="75.66" y2="210.89" stroke="#c51c3f" stroke-width="1.05"/>
<line x1="76.50" y1="246.09" x2="76.50" y2="210.89" stroke="#c51c3f" stroke-width="1.05"/>
<line x1="74.20" y1="246.09" x2="78.80" y2="246.09" stroke="#c51c3f" stroke-width="1.05"/>
<line x1="74.20" y1="210.89" x2="78.80" y2="210.89" stroke="#c51c3f" stroke-width="1.05"/>
<polyline points="52.40,212.98 54.50,215.23 57.12,219.43 60.78,215.98 62.36,224.37 65.81,227.96 69.17,236.58 73.36,238.00 76.50,228.71" fill="none" stroke="#c51c3f" stroke-width="1.05"/>
<circle cx="52.40" cy="212.98" r="1.8" fill="#efd3bf" stroke="#c51c3f" stroke-width="1.15"/>
<circle cx="54.50" cy="215.23" r="1.8" fill="#efd3bf" stroke="#c51c3f" stroke-width="1.15"/>
<circle cx="57.12" cy="219.43" r="1.8" fill="#efd3bf" stroke="#c51c3f" stroke-width="1.15"/>
<circle cx="60.78" cy="215.98" r="1.8" fill="#efd3bf" stroke="#c51c3f" stroke-width="1.15"/>
<circle cx="62.36" cy="224.37" r="1.8" fill="#efd3bf" stroke="#c51c3f" stroke-width="1.15"/>
<circle cx="65.81" cy="227.96" r="1.8" fill="#efd3bf" stroke="#c51c3f" stroke-width="1.15"/>
<circle cx="69.17" cy="236.58" r="1.8" fill="#efd3bf" stroke="#c51c3f" stroke-width="1.15"/>
<circle cx="73.36" cy="238.00" r="1.8" fill="#efd3bf" stroke="#c51c3f" stroke-width="1.15"/>
<circle cx="76.50" cy="228.71" r="1.8" fill="#efd3bf" stroke="#c51c3f" stroke-width="1.15"/>
<line x1="57.95" y1="216.73" x2="57.95" y2="207.74" stroke="#62a83c" stroke-width="1.05"/>
<line x1="55.65" y1="216.73" x2="60.25" y2="216.73" stroke="#62a83c" stroke-width="1.05"/>
<line x1="55.65" y1="207.74" x2="60.25" y2="207.74" stroke="#62a83c" stroke-width="1.05"/>
<line x1="80.80" y1="237.78" x2="80.80" y2="226.69" stroke="#62a83c" stroke-width="1.05"/>
<line x1="78.50" y1="237.78" x2="83.10" y2="237.78" stroke="#62a83c" stroke-width="1.05"/>
<line x1="78.50" y1="226.69" x2="83.10" y2="226.69" stroke="#62a83c" stroke-width="1.05"/>
<line x1="88.35" y1="236.95" x2="88.35" y2="223.47" stroke="#62a83c" stroke-width="1.05"/>
<line x1="86.05" y1="236.95" x2="90.65" y2="236.95" stroke="#62a83c" stroke-width="1.05"/>
<line x1="86.05" y1="223.47" x2="90.65" y2="223.47" stroke="#62a83c" stroke-width="1.05"/>
<line x1="90.97" y1="256.80" x2="90.97" y2="247.44" stroke="#62a83c" stroke-width="1.05"/>
<line x1="88.67" y1="256.80" x2="93.27" y2="256.80" stroke="#62a83c" stroke-width="1.05"/>
<line x1="88.67" y1="247.44" x2="93.27" y2="247.44" stroke="#62a83c" stroke-width="1.05"/>
<line x1="95.05" y1="248.94" x2="95.05" y2="225.87" stroke="#62a83c" stroke-width="1.05"/>
<line x1="92.75" y1="248.94" x2="97.35" y2="248.94" stroke="#62a83c" stroke-width="1.05"/>
<line x1="92.75" y1="225.87" x2="97.35" y2="225.87" stroke="#62a83c" stroke-width="1.05"/>
<line x1="105.74" y1="242.49" x2="105.74" y2="233.81" stroke="#62a83c" stroke-width="1.05"/>
<line x1="103.44" y1="242.49" x2="108.04" y2="242.49" stroke="#62a83c" stroke-width="1.05"/>
<line x1="103.44" y1="233.81" x2="108.04" y2="233.81" stroke="#62a83c" stroke-width="1.05"/>
<line x1="119.47" y1="244.07" x2="119.47" y2="229.01" stroke="#62a83c" stroke-width="1.05"/>
<line x1="117.17" y1="244.07" x2="121.77" y2="244.07" stroke="#62a83c" stroke-width="1.05"/>
<line x1="117.17" y1="229.01" x2="121.77" y2="229.01" stroke="#62a83c" stroke-width="1.05"/>
<polyline points="52.40,227.21 52.92,223.02 53.45,215.23 57.95,212.23 60.26,227.96 61.62,219.43 65.81,220.92 69.17,228.71 72.94,233.21 77.24,233.73 80.80,232.23 84.05,234.70 88.35,230.21 90.97,252.08 95.05,237.78 99.35,249.68 102.49,238.97 105.74,238.30 116.01,232.98 119.47,236.95 123.98,232.23 141.48,227.51" fill="none" stroke="#62a83c" stroke-width="1.05"/>
<circle cx="52.40" cy="227.21" r="1.9" fill="#d9e6c6" stroke="#62a83c" stroke-width="1.1"/>
<circle cx="52.92" cy="223.02" r="1.9" fill="#d9e6c6" stroke="#62a83c" stroke-width="1.1"/>
<circle cx="53.45" cy="215.23" r="1.9" fill="#d9e6c6" stroke="#62a83c" stroke-width="1.1"/>
<circle cx="57.95" cy="212.23" r="1.9" fill="#d9e6c6" stroke="#62a83c" stroke-width="1.1"/>
<circle cx="60.26" cy="227.96" r="1.9" fill="#d9e6c6" stroke="#62a83c" stroke-width="1.1"/>
<circle cx="61.62" cy="219.43" r="1.9" fill="#d9e6c6" stroke="#62a83c" stroke-width="1.1"/>
<circle cx="65.81" cy="220.92" r="1.9" fill="#d9e6c6" stroke="#62a83c" stroke-width="1.1"/>
<circle cx="69.17" cy="228.71" r="1.9" fill="#d9e6c6" stroke="#62a83c" stroke-width="1.1"/>
<circle cx="72.94" cy="233.21" r="1.9" fill="#d9e6c6" stroke="#62a83c" stroke-width="1.1"/>
<circle cx="77.24" cy="233.73" r="1.9" fill="#d9e6c6" stroke="#62a83c" stroke-width="1.1"/>
<circle cx="80.80" cy="232.23" r="1.9" fill="#d9e6c6" stroke="#62a83c" stroke-width="1.1"/>
<circle cx="84.05" cy="234.70" r="1.9" fill="#d9e6c6" stroke="#62a83c" stroke-width="1.1"/>
<circle cx="88.35" cy="230.21" r="1.9" fill="#d9e6c6" stroke="#62a83c" stroke-width="1.1"/>
<circle cx="90.97" cy="252.08" r="1.9" fill="#d9e6c6" stroke="#62a83c" stroke-width="1.1"/>
<circle cx="95.05" cy="237.78" r="1.9" fill="#d9e6c6" stroke="#62a83c" stroke-width="1.1"/>
<circle cx="99.35" cy="249.68" r="1.9" fill="#d9e6c6" stroke="#62a83c" stroke-width="1.1"/>
<circle cx="102.49" cy="238.97" r="1.9" fill="#d9e6c6" stroke="#62a83c" stroke-width="1.1"/>
<circle cx="105.74" cy="238.30" r="1.9" fill="#d9e6c6" stroke="#62a83c" stroke-width="1.1"/>
<circle cx="116.01" cy="232.98" r="1.9" fill="#d9e6c6" stroke="#62a83c" stroke-width="1.1"/>
<circle cx="119.47" cy="236.95" r="1.9" fill="#d9e6c6" stroke="#62a83c" stroke-width="1.1"/>
<circle cx="123.98" cy="232.23" r="1.9" fill="#d9e6c6" stroke="#62a83c" stroke-width="1.1"/>
<circle cx="141.48" cy="227.51" r="1.9" fill="#d9e6c6" stroke="#62a83c" stroke-width="1.1"/>
<text x="75.4" y="205.5" font-size="7" text-anchor="middle" fill="#222" stroke="#222" stroke-width="0.3" font-weight="normal" >*</text>
<line x1="208.5" y1="197.9" x2="208.5" y2="276.8" stroke="#111" stroke-width="1.2"/>
<line x1="207.9" y1="276.2" x2="316.2" y2="276.2" stroke="#111" stroke-width="1.2"/>
<line x1="205.3" y1="276.30" x2="208.5" y2="276.30" stroke="#111" stroke-width="1"/>
<text x="201.5" y="279.4" font-size="8.1" text-anchor="end" fill="#1a1a1a" stroke="#1a1a1a" stroke-width="0.3" font-weight="normal" textLength="4.8" lengthAdjust="spacing" >0</text>
<line x1="205.3" y1="251.30" x2="208.5" y2="251.30" stroke="#111" stroke-width="1"/>
<text x="201.5" y="254.4" font-size="8.1" text-anchor="end" fill="#1a1a1a" stroke="#1a1a1a" stroke-width="0.3" font-weight="normal" textLength="9.6" lengthAdjust="spacing" >50</text>
<line x1="205.3" y1="226.30" x2="208.5" y2="226.30" stroke="#111" stroke-width="1"/>
<text x="201.5" y="229.4" font-size="8.1" text-anchor="end" fill="#1a1a1a" stroke="#1a1a1a" stroke-width="0.3" font-weight="normal" textLength="14.4" lengthAdjust="spacing" >100</text>
<line x1="205.3" y1="201.30" x2="208.5" y2="201.30" stroke="#111" stroke-width="1"/>
<text x="201.5" y="204.4" font-size="8.1" text-anchor="end" fill="#1a1a1a" stroke="#1a1a1a" stroke-width="0.3" font-weight="normal" textLength="14.4" lengthAdjust="spacing" >150</text>
<line x1="208.50" y1="276.2" x2="208.50" y2="279.0" stroke="#111" stroke-width="1"/>
<text x="208.5" y="290.4" font-size="8.1" text-anchor="middle" fill="#1a1a1a" stroke="#1a1a1a" stroke-width="0.3" font-weight="normal" textLength="4.8" lengthAdjust="spacing" >0</text>
<line x1="229.42" y1="276.2" x2="229.42" y2="279.0" stroke="#111" stroke-width="1"/>
<text x="229.42" y="290.4" font-size="8.1" text-anchor="middle" fill="#1a1a1a" stroke="#1a1a1a" stroke-width="0.3" font-weight="normal" textLength="9.6" lengthAdjust="spacing" >20</text>
<line x1="250.34" y1="276.2" x2="250.34" y2="279.0" stroke="#111" stroke-width="1"/>
<text x="250.34" y="290.4" font-size="8.1" text-anchor="middle" fill="#1a1a1a" stroke="#1a1a1a" stroke-width="0.3" font-weight="normal" textLength="9.6" lengthAdjust="spacing" >40</text>
<line x1="271.26" y1="276.2" x2="271.26" y2="279.0" stroke="#111" stroke-width="1"/>
<text x="271.26" y="290.4" font-size="8.1" text-anchor="middle" fill="#1a1a1a" stroke="#1a1a1a" stroke-width="0.3" font-weight="normal" textLength="9.6" lengthAdjust="spacing" >60</text>
<line x1="292.18" y1="276.2" x2="292.18" y2="279.0" stroke="#111" stroke-width="1"/>
<text x="292.18" y="290.4" font-size="8.1" text-anchor="middle" fill="#1a1a1a" stroke="#1a1a1a" stroke-width="0.3" font-weight="normal" textLength="9.6" lengthAdjust="spacing" >80</text>
<line x1="313.10" y1="276.2" x2="313.10" y2="279.0" stroke="#111" stroke-width="1"/>
<text x="313.1" y="290.4" font-size="8.1" text-anchor="middle" fill="#1a1a1a" stroke="#1a1a1a" stroke-width="0.3" font-weight="normal" textLength="14.4" lengthAdjust="spacing" >100</text>
<text transform="translate(262.1,304.9) scale(0.7,1)" x="0" y="0" font-size="9.3" text-anchor="middle" fill="#1a1a1a" stroke="#1a1a1a" stroke-width="0.4" textLength="77.43" lengthAdjust="spacing">Day post infusion</text>
<text transform="translate(180.5,237.4) rotate(-90) scale(0.56,1)" x="0" y="0" font-size="10.8" text-anchor="middle" fill="#1a1a1a" stroke="#1a1a1a" stroke-width="0.4" textLength="158.21" lengthAdjust="spacing">%CD25 positive (of CFSE+)</text>
<line x1="208.50" y1="241.30" x2="208.50" y2="228.80" stroke="#30509a" stroke-width="1.05"/>
<line x1="206.20" y1="241.30" x2="210.80" y2="241.30" stroke="#30509a" stroke-width="1.05"/>
<line x1="206.20" y1="228.80" x2="210.80" y2="228.80" stroke="#30509a" stroke-width="1.05"/>
<line x1="210.28" y1="248.80" x2="210.28" y2="240.30" stroke="#30509a" stroke-width="1.05"/>
<line x1="207.98" y1="248.80" x2="212.58" y2="248.80" stroke="#30509a" stroke-width="1.05"/>
<line x1="207.98" y1="240.30" x2="212.58" y2="240.30" stroke="#30509a" stroke-width="1.05"/>
<line x1="211.85" y1="253.30" x2="211.85" y2="243.30" stroke="#30509a" stroke-width="1.05"/>
<line x1="209.55" y1="253.30" x2="214.15" y2="253.30" stroke="#30509a" stroke-width="1.05"/>
<line x1="209.55" y1="243.30" x2="214.15" y2="243.30" stroke="#30509a" stroke-width="1.05"/>
<line x1="214.99" y1="254.30" x2="214.99" y2="244.30" stroke="#30509a" stroke-width="1.05"/>
<line x1="212.69" y1="254.30" x2="217.29" y2="254.30" stroke="#30509a" stroke-width="1.05"/>
<line x1="212.69" y1="244.30" x2="217.29" y2="244.30" stroke="#30509a" stroke-width="1.05"/>
<line x1="218.96" y1="250.30" x2="218.96" y2="241.30" stroke="#30509a" stroke-width="1.05"/>
<line x1="216.66" y1="250.30" x2="221.26" y2="250.30" stroke="#30509a" stroke-width="1.05"/>
<line x1="216.66" y1="241.30" x2="221.26" y2="241.30" stroke="#30509a" stroke-width="1.05"/>
<line x1="222.10" y1="255.30" x2="222.10" y2="246.30" stroke="#30509a" stroke-width="1.05"/>
<line x1="219.80" y1="255.30" x2="224.40" y2="255.30" stroke="#30509a" stroke-width="1.05"/>
<line x1="219.80" y1="246.30" x2="224.40" y2="246.30" stroke="#30509a" stroke-width="1.05"/>
<line x1="225.24" y1="260.30" x2="225.24" y2="251.30" stroke="#30509a" stroke-width="1.05"/>
<line x1="222.94" y1="260.30" x2="227.54" y2="260.30" stroke="#30509a" stroke-width="1.05"/>
<line x1="222.94" y1="251.30" x2="227.54" y2="251.30" stroke="#30509a" stroke-width="1.05"/>
<line x1="229.42" y1="261.30" x2="229.42" y2="252.30" stroke="#30509a" stroke-width="1.05"/>
<line x1="227.12" y1="261.30" x2="231.72" y2="261.30" stroke="#30509a" stroke-width="1.05"/>
<line x1="227.12" y1="252.30" x2="231.72" y2="252.30" stroke="#30509a" stroke-width="1.05"/>
<line x1="232.56" y1="265.30" x2="232.56" y2="257.30" stroke="#30509a" stroke-width="1.05"/>
<line x1="230.26" y1="265.30" x2="234.86" y2="265.30" stroke="#30509a" stroke-width="1.05"/>
<line x1="230.26" y1="257.30" x2="234.86" y2="257.30" stroke="#30509a" stroke-width="1.05"/>
<polyline points="208.50,235.80 210.28,244.30 211.85,248.30 214.99,249.30 218.96,245.30 222.10,250.80 225.24,255.50 229.42,256.30 232.56,261.00" fill="none" stroke="#30509a" stroke-width="1.05"/>
<circle cx="208.50" cy="235.80" r="1.9" fill="#c9d1e6" stroke="#30509a" stroke-width="1.1"/>
<circle cx="210.28" cy="244.30" r="1.9" fill="#c9d1e6" stroke="#30509a" stroke-width="1.1"/>
<circle cx="211.85" cy="248.30" r="1.9" fill="#c9d1e6" stroke="#30509a" stroke-width="1.1"/>
<circle cx="214.99" cy="249.30" r="1.9" fill="#c9d1e6" stroke="#30509a" stroke-width="1.1"/>
<circle cx="218.96" cy="245.30" r="1.9" fill="#c9d1e6" stroke="#30509a" stroke-width="1.1"/>
<circle cx="222.10" cy="250.80" r="1.9" fill="#c9d1e6" stroke="#30509a" stroke-width="1.1"/>
<circle cx="225.24" cy="255.50" r="1.9" fill="#c9d1e6" stroke="#30509a" stroke-width="1.1"/>
<circle cx="229.42" cy="256.30" r="1.9" fill="#c9d1e6" stroke="#30509a" stroke-width="1.1"/>
<circle cx="232.56" cy="261.00" r="1.9" fill="#c9d1e6" stroke="#30509a" stroke-width="1.1"/>
<line x1="229.32" y1="250.80" x2="229.32" y2="227.80" stroke="#c51c3f" stroke-width="1.05"/>
<line x1="227.02" y1="250.80" x2="231.62" y2="250.80" stroke="#c51c3f" stroke-width="1.05"/>
<line x1="227.02" y1="227.80" x2="231.62" y2="227.80" stroke="#c51c3f" stroke-width="1.05"/>
<line x1="232.87" y1="242.80" x2="232.87" y2="230.00" stroke="#c51c3f" stroke-width="1.05"/>
<line x1="230.57" y1="242.80" x2="235.17" y2="242.80" stroke="#c51c3f" stroke-width="1.05"/>
<line x1="230.57" y1="230.00" x2="235.17" y2="230.00" stroke="#c51c3f" stroke-width="1.05"/>
<polyline points="208.50,232.30 212.06,230.30 217.18,228.80 222.10,229.30 226.60,231.30 229.32,235.00 232.87,237.80" fill="none" stroke="#c51c3f" stroke-width="1.05"/>
<circle cx="208.50" cy="232.30" r="1.8" fill="#efd3bf" stroke="#c51c3f" stroke-width="1.15"/>
<circle cx="212.06" cy="230.30" r="1.8" fill="#efd3bf" stroke="#c51c3f" stroke-width="1.15"/>
<circle cx="217.18" cy="228.80" r="1.8" fill="#efd3bf" stroke="#c51c3f" stroke-width="1.15"/>
<circle cx="222.10" cy="229.30" r="1.8" fill="#efd3bf" stroke="#c51c3f" stroke-width="1.15"/>
<circle cx="226.60" cy="231.30" r="1.8" fill="#efd3bf" stroke="#c51c3f" stroke-width="1.15"/>
<circle cx="229.32" cy="235.00" r="1.8" fill="#efd3bf" stroke="#c51c3f" stroke-width="1.15"/>
<circle cx="232.87" cy="237.80" r="1.8" fill="#efd3bf" stroke="#c51c3f" stroke-width="1.15"/>
<line x1="229.42" y1="244.80" x2="229.42" y2="235.80" stroke="#62a83c" stroke-width="1.05"/>
<line x1="227.12" y1="244.80" x2="231.72" y2="244.80" stroke="#62a83c" stroke-width="1.05"/>
<line x1="227.12" y1="235.80" x2="231.72" y2="235.80" stroke="#62a83c" stroke-width="1.05"/>
<line x1="239.88" y1="233.80" x2="239.88" y2="226.30" stroke="#62a83c" stroke-width="1.05"/>
<line x1="237.58" y1="233.80" x2="242.18" y2="233.80" stroke="#62a83c" stroke-width="1.05"/>
<line x1="237.58" y1="226.30" x2="242.18" y2="226.30" stroke="#62a83c" stroke-width="1.05"/>
<line x1="244.06" y1="241.30" x2="244.06" y2="229.30" stroke="#62a83c" stroke-width="1.05"/>
<line x1="241.76" y1="241.30" x2="246.36" y2="241.30" stroke="#62a83c" stroke-width="1.05"/>
<line x1="241.76" y1="229.30" x2="246.36" y2="229.30" stroke="#62a83c" stroke-width="1.05"/>
<line x1="247.20" y1="257.00" x2="247.20" y2="246.50" stroke="#62a83c" stroke-width="1.05"/>
<line x1="244.90" y1="257.00" x2="249.50" y2="257.00" stroke="#62a83c" stroke-width="1.05"/>
<line x1="244.90" y1="246.50" x2="249.50" y2="246.50" stroke="#62a83c" stroke-width="1.05"/>
<line x1="251.60" y1="246.20" x2="251.60" y2="239.60" stroke="#62a83c" stroke-width="1.05"/>
<line x1="249.30" y1="246.20" x2="253.90" y2="246.20" stroke="#62a83c" stroke-width="1.05"/>
<line x1="249.30" y1="239.60" x2="253.90" y2="239.60" stroke="#62a83c" stroke-width="1.05"/>
<line x1="261.85" y1="242.95" x2="261.85" y2="238.45" stroke="#62a83c" stroke-width="1.05"/>
<line x1="259.55" y1="242.95" x2="264.15" y2="242.95" stroke="#62a83c" stroke-width="1.05"/>
<line x1="259.55" y1="238.45" x2="264.15" y2="238.45" stroke="#62a83c" stroke-width="1.05"/>
<line x1="275.44" y1="242.80" x2="275.44" y2="237.30" stroke="#62a83c" stroke-width="1.05"/>
<line x1="273.14" y1="242.80" x2="277.74" y2="242.80" stroke="#62a83c" stroke-width="1.05"/>
<line x1="273.14" y1="237.30" x2="277.74" y2="237.30" stroke="#62a83c" stroke-width="1.05"/>
<polyline points="208.50,230.80 208.81,240.30 214.99,230.80 218.44,234.80 222.10,227.80 225.24,233.80 229.42,239.80 232.56,234.00 236.74,232.50 239.88,230.10 244.06,234.80 247.20,250.80 251.60,242.80 255.57,242.70 258.50,241.90 261.85,240.70 272.10,235.00 275.44,240.10 279.73,243.20 296.89,235.50" fill="none" stroke="#62a83c" stroke-width="1.05"/>
<circle cx="208.50" cy="230.80" r="1.9" fill="#d9e6c6" stroke="#62a83c" stroke-width="1.1"/>
<circle cx="208.81" cy="240.30" r="1.9" fill="#d9e6c6" stroke="#62a83c" stroke-width="1.1"/>
<circle cx="214.99" cy="230.80" r="1.9" fill="#d9e6c6" stroke="#62a83c" stroke-width="1.1"/>
<circle cx="218.44" cy="234.80" r="1.9" fill="#d9e6c6" stroke="#62a83c" stroke-width="1.1"/>
<circle cx="222.10" cy="227.80" r="1.9" fill="#d9e6c6" stroke="#62a83c" stroke-width="1.1"/>
<circle cx="225.24" cy="233.80" r="1.9" fill="#d9e6c6" stroke="#62a83c" stroke-width="1.1"/>
<circle cx="229.42" cy="239.80" r="1.9" fill="#d9e6c6" stroke="#62a83c" stroke-width="1.1"/>
<circle cx="232.56" cy="234.00" r="1.9" fill="#d9e6c6" stroke="#62a83c" stroke-width="1.1"/>
<circle cx="236.74" cy="232.50" r="1.9" fill="#d9e6c6" stroke="#62a83c" stroke-width="1.1"/>
<circle cx="239.88" cy="230.10" r="1.9" fill="#d9e6c6" stroke="#62a83c" stroke-width="1.1"/>
<circle cx="244.06" cy="234.80" r="1.9" fill="#d9e6c6" stroke="#62a83c" stroke-width="1.1"/>
<circle cx="247.20" cy="250.80" r="1.9" fill="#d9e6c6" stroke="#62a83c" stroke-width="1.1"/>
<circle cx="251.60" cy="242.80" r="1.9" fill="#d9e6c6" stroke="#62a83c" stroke-width="1.1"/>
<circle cx="255.57" cy="242.70" r="1.9" fill="#d9e6c6" stroke="#62a83c" stroke-width="1.1"/>
<circle cx="258.50" cy="241.90" r="1.9" fill="#d9e6c6" stroke="#62a83c" stroke-width="1.1"/>
<circle cx="261.85" cy="240.70" r="1.9" fill="#d9e6c6" stroke="#62a83c" stroke-width="1.1"/>
<circle cx="272.10" cy="235.00" r="1.9" fill="#d9e6c6" stroke="#62a83c" stroke-width="1.1"/>
<circle cx="275.44" cy="240.10" r="1.9" fill="#d9e6c6" stroke="#62a83c" stroke-width="1.1"/>
<circle cx="279.73" cy="243.20" r="1.9" fill="#d9e6c6" stroke="#62a83c" stroke-width="1.1"/>
<circle cx="296.89" cy="235.50" r="1.9" fill="#d9e6c6" stroke="#62a83c" stroke-width="1.1"/>
<text x="231.5" y="205.8" font-size="7" text-anchor="middle" fill="#222" stroke="#222" stroke-width="0.3" font-weight="normal" >*</text>
<line x1="364.5" y1="192.4" x2="364.5" y2="276.70000000000005" stroke="#111" stroke-width="1.2"/>
<line x1="363.9" y1="276.1" x2="479.7" y2="276.1" stroke="#111" stroke-width="1.2"/>
<line x1="361.3" y1="276.10" x2="364.5" y2="276.10" stroke="#111" stroke-width="1"/>
<text x="357.5" y="279.2" font-size="8.1" text-anchor="end" fill="#1a1a1a" stroke="#1a1a1a" stroke-width="0.3" font-weight="normal" textLength="4.8" lengthAdjust="spacing" >0</text>
<line x1="361.3" y1="248.87" x2="364.5" y2="248.87" stroke="#111" stroke-width="1"/>
<text x="357.5" y="251.97" font-size="8.1" text-anchor="end" fill="#1a1a1a" stroke="#1a1a1a" stroke-width="0.3" font-weight="normal" textLength="9.6" lengthAdjust="spacing" >50</text>
<line x1="361.3" y1="221.63" x2="364.5" y2="221.63" stroke="#111" stroke-width="1"/>
<text x="357.5" y="224.73" font-size="8.1" text-anchor="end" fill="#1a1a1a" stroke="#1a1a1a" stroke-width="0.3" font-weight="normal" textLength="14.4" lengthAdjust="spacing" >100</text>
<line x1="361.3" y1="194.40" x2="364.5" y2="194.40" stroke="#111" stroke-width="1"/>
<text x="357.5" y="197.5" font-size="8.1" text-anchor="end" fill="#1a1a1a" stroke="#1a1a1a" stroke-width="0.3" font-weight="normal" textLength="14.4" lengthAdjust="spacing" >150</text>
<line x1="364.50" y1="276.1" x2="364.50" y2="278.90000000000003" stroke="#111" stroke-width="1"/>
<text x="364.5" y="290.3" font-size="8.1" text-anchor="middle" fill="#1a1a1a" stroke="#1a1a1a" stroke-width="0.3" font-weight="normal" textLength="4.8" lengthAdjust="spacing" >0</text>
<line x1="386.84" y1="276.1" x2="386.84" y2="278.90000000000003" stroke="#111" stroke-width="1"/>
<text x="386.84" y="290.3" font-size="8.1" text-anchor="middle" fill="#1a1a1a" stroke="#1a1a1a" stroke-width="0.3" font-weight="normal" textLength="9.6" lengthAdjust="spacing" >20</text>
<line x1="409.18" y1="276.1" x2="409.18" y2="278.90000000000003" stroke="#111" stroke-width="1"/>
<text x="409.18" y="290.3" font-size="8.1" text-anchor="middle" fill="#1a1a1a" stroke="#1a1a1a" stroke-width="0.3" font-weight="normal" textLength="9.6" lengthAdjust="spacing" >40</text>
<line x1="431.52" y1="276.1" x2="431.52" y2="278.90000000000003" stroke="#111" stroke-width="1"/>
<text x="431.52" y="290.3" font-size="8.1" text-anchor="middle" fill="#1a1a1a" stroke="#1a1a1a" stroke-width="0.3" font-weight="normal" textLength="9.6" lengthAdjust="spacing" >60</text>
<line x1="453.86" y1="276.1" x2="453.86" y2="278.90000000000003" stroke="#111" stroke-width="1"/>
<text x="453.86" y="290.3" font-size="8.1" text-anchor="middle" fill="#1a1a1a" stroke="#1a1a1a" stroke-width="0.3" font-weight="normal" textLength="9.6" lengthAdjust="spacing" >80</text>
<line x1="476.20" y1="276.1" x2="476.20" y2="278.90000000000003" stroke="#111" stroke-width="1"/>
<text x="476.2" y="290.3" font-size="8.1" text-anchor="middle" fill="#1a1a1a" stroke="#1a1a1a" stroke-width="0.3" font-weight="normal" textLength="14.4" lengthAdjust="spacing" >100</text>
<text transform="translate(422,304.9) scale(0.7,1)" x="0" y="0" font-size="9.3" text-anchor="middle" fill="#1a1a1a" stroke="#1a1a1a" stroke-width="0.4" textLength="77.0" lengthAdjust="spacing">Day post infusion</text>
<text transform="translate(336.5,234.2) rotate(-90) scale(0.56,1)" x="0" y="0" font-size="10.8" text-anchor="middle" fill="#1a1a1a" stroke="#1a1a1a" stroke-width="0.4" textLength="169.64" lengthAdjust="spacing">%CD127 negative (of CFSE+)</text>
<line x1="369.64" y1="227.08" x2="369.64" y2="222.17" stroke="#30509a" stroke-width="1.05"/>
<line x1="367.34" y1="227.08" x2="371.94" y2="227.08" stroke="#30509a" stroke-width="1.05"/>
<line x1="367.34" y1="222.17" x2="371.94" y2="222.17" stroke="#30509a" stroke-width="1.05"/>
<line x1="378.46" y1="232.52" x2="378.46" y2="224.90" stroke="#30509a" stroke-width="1.05"/>
<line x1="376.16" y1="232.52" x2="380.76" y2="232.52" stroke="#30509a" stroke-width="1.05"/>
<line x1="376.16" y1="224.90" x2="380.76" y2="224.90" stroke="#30509a" stroke-width="1.05"/>
<line x1="386.84" y1="247.39" x2="386.84" y2="234.70" stroke="#30509a" stroke-width="1.05"/>
<line x1="384.54" y1="247.39" x2="389.14" y2="247.39" stroke="#30509a" stroke-width="1.05"/>
<line x1="384.54" y1="234.70" x2="389.14" y2="234.70" stroke="#30509a" stroke-width="1.05"/>
<line x1="389.86" y1="251.21" x2="389.86" y2="236.88" stroke="#30509a" stroke-width="1.05"/>
<line x1="387.56" y1="251.21" x2="392.16" y2="251.21" stroke="#30509a" stroke-width="1.05"/>
<line x1="387.56" y1="236.88" x2="392.16" y2="236.88" stroke="#30509a" stroke-width="1.05"/>
<polyline points="364.50,223.81 369.64,224.35 378.46,227.62 382.26,229.26 386.84,240.97 389.86,242.87" fill="none" stroke="#30509a" stroke-width="1.05"/>
<circle cx="364.50" cy="223.81" r="1.9" fill="#c9d1e6" stroke="#30509a" stroke-width="1.1"/>
<circle cx="369.64" cy="224.35" r="1.9" fill="#c9d1e6" stroke="#30509a" stroke-width="1.1"/>
<circle cx="378.46" cy="227.62" r="1.9" fill="#c9d1e6" stroke="#30509a" stroke-width="1.1"/>
<circle cx="382.26" cy="229.26" r="1.9" fill="#c9d1e6" stroke="#30509a" stroke-width="1.1"/>
<circle cx="386.84" cy="240.97" r="1.9" fill="#c9d1e6" stroke="#30509a" stroke-width="1.1"/>
<circle cx="389.86" cy="242.87" r="1.9" fill="#c9d1e6" stroke="#30509a" stroke-width="1.1"/>
<line x1="372.77" y1="236.88" x2="372.77" y2="224.90" stroke="#c51c3f" stroke-width="1.05"/>
<line x1="370.47" y1="236.88" x2="375.07" y2="236.88" stroke="#c51c3f" stroke-width="1.05"/>
<line x1="370.47" y1="224.90" x2="375.07" y2="224.90" stroke="#c51c3f" stroke-width="1.05"/>
<line x1="378.46" y1="246.69" x2="378.46" y2="227.08" stroke="#c51c3f" stroke-width="1.05"/>
<line x1="376.16" y1="246.69" x2="380.76" y2="246.69" stroke="#c51c3f" stroke-width="1.05"/>
<line x1="376.16" y1="227.08" x2="380.76" y2="227.08" stroke="#c51c3f" stroke-width="1.05"/>
<line x1="390.19" y1="242.33" x2="390.19" y2="232.52" stroke="#c51c3f" stroke-width="1.05"/>
<line x1="387.89" y1="242.33" x2="392.49" y2="242.33" stroke="#c51c3f" stroke-width="1.05"/>
<line x1="387.89" y1="232.52" x2="392.49" y2="232.52" stroke="#c51c3f" stroke-width="1.05"/>
<polyline points="366.40,224.52 369.64,227.08 372.77,228.98 378.46,232.09 380.36,235.25 382.26,231.43 387.29,234.16 390.19,236.34" fill="none" stroke="#c51c3f" stroke-width="1.05"/>
<circle cx="366.40" cy="224.52" r="1.8" fill="#efd3bf" stroke="#c51c3f" stroke-width="1.15"/>
<circle cx="369.64" cy="227.08" r="1.8" fill="#efd3bf" stroke="#c51c3f" stroke-width="1.15"/>
<circle cx="372.77" cy="228.98" r="1.8" fill="#efd3bf" stroke="#c51c3f" stroke-width="1.15"/>
<circle cx="378.46" cy="232.09" r="1.8" fill="#efd3bf" stroke="#c51c3f" stroke-width="1.15"/>
<circle cx="380.36" cy="235.25" r="1.8" fill="#efd3bf" stroke="#c51c3f" stroke-width="1.15"/>
<circle cx="382.26" cy="231.43" r="1.8" fill="#efd3bf" stroke="#c51c3f" stroke-width="1.15"/>
<circle cx="387.29" cy="234.16" r="1.8" fill="#efd3bf" stroke="#c51c3f" stroke-width="1.15"/>
<circle cx="390.19" cy="236.34" r="1.8" fill="#efd3bf" stroke="#c51c3f" stroke-width="1.15"/>
<line x1="365.17" y1="248.87" x2="365.17" y2="234.16" stroke="#62a83c" stroke-width="1.05"/>
<line x1="362.87" y1="248.87" x2="367.47" y2="248.87" stroke="#62a83c" stroke-width="1.05"/>
<line x1="362.87" y1="234.16" x2="367.47" y2="234.16" stroke="#62a83c" stroke-width="1.05"/>
<line x1="405.61" y1="262.48" x2="405.61" y2="231.98" stroke="#62a83c" stroke-width="1.05"/>
<line x1="403.31" y1="262.48" x2="407.91" y2="262.48" stroke="#62a83c" stroke-width="1.05"/>
<line x1="403.31" y1="231.98" x2="407.91" y2="231.98" stroke="#62a83c" stroke-width="1.05"/>
<line x1="409.85" y1="245.60" x2="409.85" y2="236.01" stroke="#62a83c" stroke-width="1.05"/>
<line x1="407.55" y1="245.60" x2="412.15" y2="245.60" stroke="#62a83c" stroke-width="1.05"/>
<line x1="407.55" y1="236.01" x2="412.15" y2="236.01" stroke="#62a83c" stroke-width="1.05"/>
<line x1="418.34" y1="248.97" x2="418.34" y2="234.43" stroke="#62a83c" stroke-width="1.05"/>
<line x1="416.04" y1="248.97" x2="420.64" y2="248.97" stroke="#62a83c" stroke-width="1.05"/>
<line x1="416.04" y1="234.43" x2="420.64" y2="234.43" stroke="#62a83c" stroke-width="1.05"/>
<line x1="421.47" y1="241.78" x2="421.47" y2="237.15" stroke="#62a83c" stroke-width="1.05"/>
<line x1="419.17" y1="241.78" x2="423.77" y2="241.78" stroke="#62a83c" stroke-width="1.05"/>
<line x1="419.17" y1="237.15" x2="423.77" y2="237.15" stroke="#62a83c" stroke-width="1.05"/>
<line x1="436.21" y1="250.77" x2="436.21" y2="237.97" stroke="#62a83c" stroke-width="1.05"/>
<line x1="433.91" y1="250.77" x2="438.51" y2="250.77" stroke="#62a83c" stroke-width="1.05"/>
<line x1="433.91" y1="237.97" x2="438.51" y2="237.97" stroke="#62a83c" stroke-width="1.05"/>
<polyline points="365.17,238.52 365.84,228.28 367.74,231.43 370.87,230.89 373.44,234.70 375.33,237.97 378.46,241.78 382.26,243.58 386.84,234.70 390.64,246.14 394.44,236.61 398.01,246.41 402.37,237.43 405.61,247.23 409.85,240.69 414.65,235.90 418.34,240.97 421.47,239.39 432.64,245.05 436.21,244.62 440.46,240.31 459.44,257.31" fill="none" stroke="#62a83c" stroke-width="1.05"/>
<circle cx="365.17" cy="238.52" r="1.9" fill="#d9e6c6" stroke="#62a83c" stroke-width="1.1"/>
<circle cx="365.84" cy="228.28" r="1.9" fill="#d9e6c6" stroke="#62a83c" stroke-width="1.1"/>
<circle cx="367.74" cy="231.43" r="1.9" fill="#d9e6c6" stroke="#62a83c" stroke-width="1.1"/>
<circle cx="370.87" cy="230.89" r="1.9" fill="#d9e6c6" stroke="#62a83c" stroke-width="1.1"/>
<circle cx="373.44" cy="234.70" r="1.9" fill="#d9e6c6" stroke="#62a83c" stroke-width="1.1"/>
<circle cx="375.33" cy="237.97" r="1.9" fill="#d9e6c6" stroke="#62a83c" stroke-width="1.1"/>
<circle cx="378.46" cy="241.78" r="1.9" fill="#d9e6c6" stroke="#62a83c" stroke-width="1.1"/>
<circle cx="382.26" cy="243.58" r="1.9" fill="#d9e6c6" stroke="#62a83c" stroke-width="1.1"/>
<circle cx="386.84" cy="234.70" r="1.9" fill="#d9e6c6" stroke="#62a83c" stroke-width="1.1"/>
<circle cx="390.64" cy="246.14" r="1.9" fill="#d9e6c6" stroke="#62a83c" stroke-width="1.1"/>
<circle cx="394.44" cy="236.61" r="1.9" fill="#d9e6c6" stroke="#62a83c" stroke-width="1.1"/>
<circle cx="398.01" cy="246.41" r="1.9" fill="#d9e6c6" stroke="#62a83c" stroke-width="1.1"/>
<circle cx="402.37" cy="237.43" r="1.9" fill="#d9e6c6" stroke="#62a83c" stroke-width="1.1"/>
<circle cx="405.61" cy="247.23" r="1.9" fill="#d9e6c6" stroke="#62a83c" stroke-width="1.1"/>
<circle cx="409.85" cy="240.69" r="1.9" fill="#d9e6c6" stroke="#62a83c" stroke-width="1.1"/>
<circle cx="414.65" cy="235.90" r="1.9" fill="#d9e6c6" stroke="#62a83c" stroke-width="1.1"/>
<circle cx="418.34" cy="240.97" r="1.9" fill="#d9e6c6" stroke="#62a83c" stroke-width="1.1"/>
<circle cx="421.47" cy="239.39" r="1.9" fill="#d9e6c6" stroke="#62a83c" stroke-width="1.1"/>
<circle cx="432.64" cy="245.05" r="1.9" fill="#d9e6c6" stroke="#62a83c" stroke-width="1.1"/>
<circle cx="436.21" cy="244.62" r="1.9" fill="#d9e6c6" stroke="#62a83c" stroke-width="1.1"/>
<circle cx="440.46" cy="240.31" r="1.9" fill="#d9e6c6" stroke="#62a83c" stroke-width="1.1"/>
<circle cx="459.44" cy="257.31" r="1.9" fill="#d9e6c6" stroke="#62a83c" stroke-width="1.1"/>
<text x="396.4" y="206.9" font-size="7.9" text-anchor="middle" fill="#1a1a1a" stroke="#1a1a1a" stroke-width="0.3" font-weight="normal" textLength="10.8" lengthAdjust="spacing" >NS</text>
<rect x="0.5" y="0.5" width="519" height="314" fill="none" stroke="#000" stroke-width="1.2"/>
</svg></body></html>
